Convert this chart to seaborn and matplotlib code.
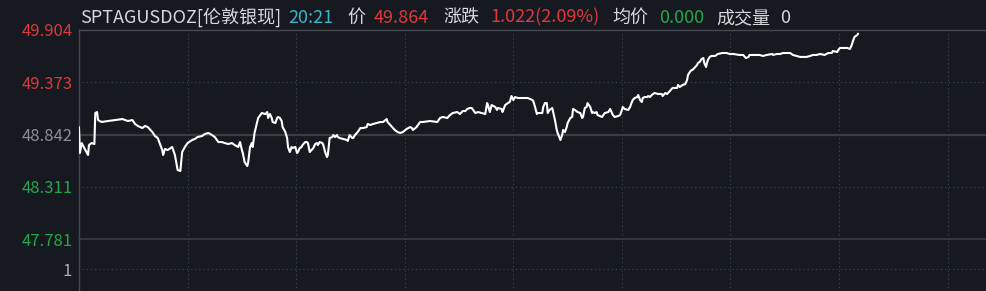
import matplotlib
matplotlib.use("Agg")
import matplotlib.pyplot as plt
import seaborn as sns
import pandas as pd

# ---------------- data ----------------
symbol_label = "SPTAGUSDOZ[伦敦银现]"
time_label = "20:21"
last_price = "49.864"
change_label = "1.022(2.09%)"
avg_price = "0.000"
volume_label = "0"

y_ticks = [49.904, 49.373, 48.842, 48.311, 47.781]
y_tick_labels = ["49.904", "49.373", "48.842", "48.311", "47.781"]
vol_ticks = [1]
vol_tick_labels = ["1"]

# minutes since 06:00 (session spans 24h, grid every 2h)
minutes = [
    0, 1, 3, 7, 10, 11, 14, 17, 18, 20, 21, 25, 32, 40, 48, 54, 59, 62, 65, 70,
    73, 76, 81, 84, 87, 92, 93, 95, 98, 103, 106, 109, 112, 114, 117, 120, 125, 128, 131, 136,
    139, 143, 147, 150, 154, 158, 161, 165, 169, 172, 176, 178, 180, 181, 183, 186, 187, 189, 191, 192,
    194, 197, 198, 202, 206, 208, 209, 211, 213, 214, 217, 219, 220, 222, 224, 225, 228, 230, 231, 233,
    235, 236, 239, 241, 242, 244, 246, 247, 250, 252, 253, 255, 257, 259, 261, 263, 264, 266, 269, 270,
    272, 274, 275, 277, 280, 281, 283, 285, 286, 288, 292, 296, 297, 299, 302, 303, 305, 307, 308, 311,
    314, 318, 319, 322, 325, 329, 333, 336, 340, 341, 346, 349, 352, 355, 358, 362, 366, 368, 369, 373,
    377, 380, 388, 396, 399, 402, 407, 410, 413, 418, 421, 424, 427, 429, 432, 434, 438, 441, 445, 449,
    451, 452, 454, 456, 460, 462, 463, 467, 468, 471, 474, 476, 478, 480, 482, 485, 490, 493, 496, 501,
    502, 504, 506, 507, 512, 513, 515, 517, 518, 520, 523, 524, 526, 528, 529, 532, 534, 535, 537, 539,
    540, 543, 545, 546, 548, 551, 554, 556, 557, 559, 561, 562, 565, 567, 568, 570, 572, 573, 578, 581,
    585, 587, 589, 590, 592, 596, 598, 600, 601, 603, 607, 609, 611, 612, 614, 617, 618, 620, 622, 623,
    625, 628, 629, 631, 633, 636, 640, 644, 645, 648, 650, 653, 656, 661, 662, 664, 667, 670, 672, 673,
    675, 677, 678, 681, 683, 684, 686, 688, 690, 691, 693, 694, 695, 697, 699, 703, 706, 711, 716, 719,
    723, 730, 734, 737, 740, 741, 747, 752, 756, 760, 766, 767, 771, 775, 778, 782, 786, 789, 793, 797,
    800, 804, 808, 811, 815, 819, 824, 828, 832, 833, 838, 839, 841, 844, 849, 852, 854, 855, 857, 860,
    861,
]
prices = [
    48.918, 48.655, 48.756, 48.685, 48.635, 48.736, 48.756, 48.746, 49.060, 49.070, 48.989, 48.969, 48.979, 48.989, 48.999, 48.979, 48.989, 48.949, 48.929, 48.908,
    48.929, 48.918, 48.868, 48.827, 48.807, 48.685, 48.635, 48.696, 48.685, 48.716, 48.635, 48.483, 48.473, 48.665, 48.716, 48.756, 48.787, 48.797, 48.817, 48.827,
    48.847, 48.858, 48.837, 48.817, 48.766, 48.766, 48.756, 48.746, 48.756, 48.736, 48.716, 48.766, 48.685, 48.655, 48.564, 48.523, 48.564, 48.716, 48.756, 48.716,
    48.858, 48.969, 49.010, 49.060, 49.050, 49.070, 49.010, 49.050, 49.010, 48.969, 48.959, 49.010, 49.020, 49.010, 48.979, 48.918, 48.868, 48.807, 48.716, 48.665,
    48.716, 48.706, 48.716, 48.655, 48.665, 48.706, 48.716, 48.736, 48.766, 48.766, 48.756, 48.665, 48.685, 48.706, 48.746, 48.756, 48.736, 48.766, 48.756, 48.736,
    48.665, 48.614, 48.635, 48.807, 48.817, 48.837, 48.817, 48.837, 48.817, 48.807, 48.797, 48.787, 48.777, 48.837, 48.807, 48.807, 48.837, 48.858, 48.868, 48.908,
    48.908, 48.918, 48.949, 48.939, 48.949, 48.959, 48.969, 48.969, 48.999, 48.969, 48.918, 48.888, 48.868, 48.858, 48.868, 48.898, 48.918, 48.908, 48.888, 48.918,
    48.969, 48.969, 48.979, 48.969, 49.010, 49.020, 49.010, 49.040, 49.060, 49.070, 49.050, 49.080, 49.080, 49.101, 49.111, 49.111, 49.060, 49.070, 49.060, 49.050,
    49.161, 49.141, 49.070, 49.141, 49.121, 49.091, 49.111, 49.101, 49.070, 49.141, 49.161, 49.172, 49.232, 49.192, 49.222, 49.212, 49.212, 49.212, 49.212, 49.192,
    49.182, 49.121, 49.050, 49.060, 49.060, 49.121, 49.161, 49.161, 49.060, 49.091, 49.111, 49.070, 48.989, 48.888, 48.858, 48.787, 48.837, 48.888, 48.868, 48.918,
    48.959, 49.010, 49.020, 49.101, 49.091, 49.070, 49.060, 49.010, 49.020, 49.111, 49.121, 49.161, 49.121, 49.060, 49.070, 49.060, 49.070, 49.040, 49.020, 49.060,
    49.070, 49.101, 49.060, 49.040, 49.020, 49.030, 49.040, 49.091, 49.121, 49.101, 49.091, 49.121, 49.172, 49.192, 49.212, 49.222, 49.243, 49.192, 49.172, 49.212,
    49.222, 49.222, 49.232, 49.222, 49.243, 49.263, 49.253, 49.253, 49.232, 49.263, 49.253, 49.283, 49.314, 49.314, 49.344, 49.324, 49.344, 49.354, 49.394, 49.445,
    49.475, 49.496, 49.496, 49.526, 49.546, 49.567, 49.577, 49.607, 49.617, 49.567, 49.526, 49.567, 49.597, 49.628, 49.638, 49.638, 49.658, 49.668, 49.668, 49.658,
    49.658, 49.648, 49.648, 49.617, 49.628, 49.648, 49.648, 49.648, 49.638, 49.648, 49.658, 49.648, 49.658, 49.658, 49.668, 49.668, 49.668, 49.648, 49.638, 49.628,
    49.628, 49.628, 49.638, 49.648, 49.648, 49.658, 49.648, 49.668, 49.668, 49.688, 49.678, 49.698, 49.719, 49.719, 49.719, 49.709, 49.749, 49.779, 49.830, 49.850,
    49.864,
]

# ---------------- style ----------------
BG = "#16191f"
GRID = "#3d4148"
SOLID = "#3a3c41"
RED = "#dc3a3d"
GREEN = "#25a64b"
GREY = "#8b8e93"
WHITE = "#d6d8dc"
CYAN = "#3bb5c6"

sns.set_theme(style="dark")
plt.rcParams["font.family"] = ["Noto Sans CJK SC", "DejaVu Sans"]
plt.rcParams["axes.unicode_minus"] = False

W, H = 987, 291
fig = plt.figure(figsize=(W / 100, H / 100), dpi=100, facecolor=BG)

x0 = 79
x_full = 1382  # right end of a 24h axis (cropped by the image)
top_px, mid_px, bot_px = 29.7, 239.3, 298.7

ax = fig.add_axes([x0 / W, 1 - mid_px / H, (x_full - x0) / W, (mid_px - top_px) / H])
axv = fig.add_axes([x0 / W, 1 - bot_px / H, (x_full - x0) / W, (bot_px - mid_px) / H])

df = pd.DataFrame({"minute": minutes, "price": prices})

for a in (ax, axv):
    a.set_facecolor(BG)
    a.set_xlim(0, 1440)
    a.set_xticks(list(range(120, 1440, 120)))
    a.tick_params(axis="x", length=0, labelbottom=False)
    a.grid(False)
    for xv in range(120, 1440, 120):
        a.axvline(xv, color=GRID, lw=0.75, ls=(0, (1.3, 2.7)), zorder=1)
    for s in a.spines.values():
        s.set_visible(False)
    a.spines["left"].set_visible(True)
    a.spines["left"].set_color("#45484d")
    a.spines["left"].set_linewidth(1.0)

ax.spines["top"].set_visible(True)
ax.spines["top"].set_color("#45484d")
ax.spines["top"].set_linewidth(1.0)
axv.spines["top"].set_visible(True)
axv.spines["top"].set_color(SOLID)
axv.spines["top"].set_linewidth(1.2)

ax.set_ylim(y_ticks[-1], y_ticks[0])
ax.set_yticks(y_ticks)
ax.set_yticklabels(y_tick_labels)
ax.tick_params(axis="y", length=0, pad=4.5, labelsize=12)
label_colors = [RED, RED, GREY, GREEN, GREEN]
for lab, c in zip(ax.get_yticklabels(), label_colors):
    lab.set_color(c)

ax.axhline(y_ticks[2], color=SOLID, lw=1.6, zorder=1)
for yv in (y_ticks[1], y_ticks[3]):
    ax.axhline(yv, xmin=3 / (x_full - x0), color=GRID, lw=0.75, ls=(0, (1.3, 2.7)), zorder=1)

axv.set_ylim(0, 2)
axv.set_yticks(vol_ticks)
axv.set_yticklabels(vol_tick_labels)
axv.tick_params(axis="y", length=0, pad=5, labelsize=12, labelcolor="#a9adb2")
axv.axhline(vol_ticks[0], xmin=3 / (x_full - x0), color=GRID, lw=0.75, ls=(0, (1.3, 2.7)), zorder=1)

sns.lineplot(data=df, x="minute", y="price", ax=ax, color="white", lw=1.5,
             estimator=None, sort=False, zorder=3, legend=False)
ax.set_xlabel("")
ax.set_ylabel("")
axv.set_xlabel("")
axv.set_ylabel("")

# header line
hdr_y = 1 - 22.7 / H
header = [
    (80, symbol_label, WHITE),
    (288.5, time_label, CYAN),
    (347, "价", WHITE),
    (374, last_price, RED),
    (443, "涨跌", WHITE),
    (490, change_label, RED),
    (612, "均价", WHITE),
    (659, avg_price, GREEN),
    (716, "成交量", WHITE),
    (780, volume_label, WHITE),
]
for px, txt, col in header:
    fig.text(px / W, hdr_y, txt, color=col, fontsize=13, ha="left", va="baseline")

fig.savefig("out.png", dpi=100, facecolor=BG)
